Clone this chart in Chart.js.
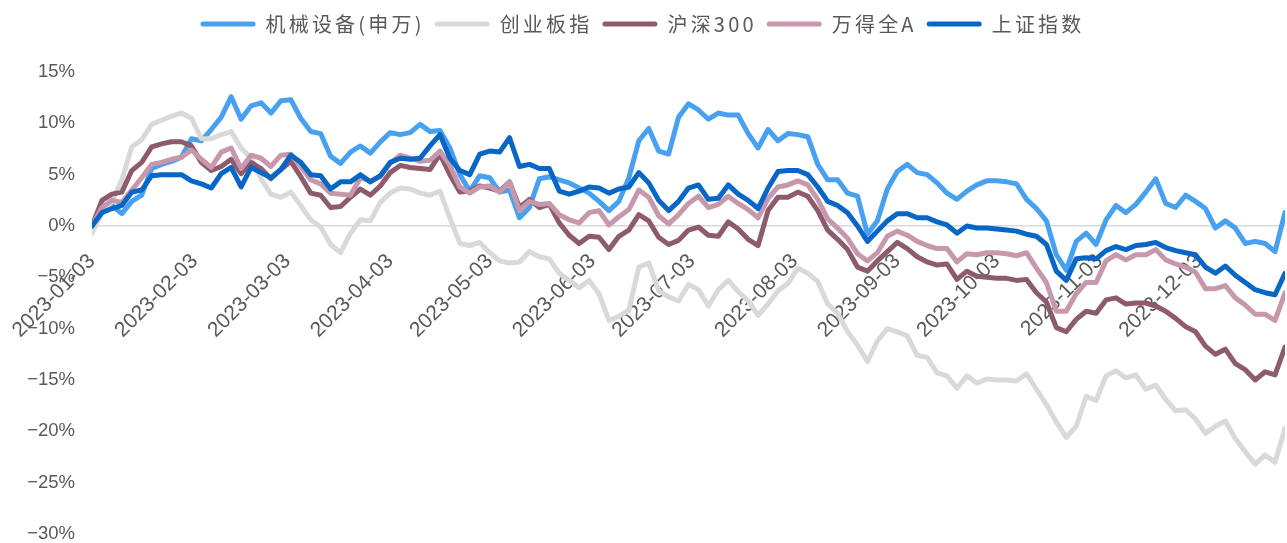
<!DOCTYPE html>
<html>
<head>
<meta charset="utf-8">
<script src="https://cdn.jsdelivr.net/npm/chart.js@4.4.1/dist/chart.umd.min.js"></script>
<style>
html,body{margin:0;padding:0;background:#ffffff;overflow:hidden;}
canvas{display:block;}
</style>
</head>
<body>
<canvas id="c" width="1287" height="543" style="width:1287px;height:543px;"></canvas>
<script>
// ---- data ----
const dates = [
"2023-01-03","2023-01-06","2023-01-09","2023-01-12","2023-01-15","2023-01-18","2023-01-21","2023-01-24","2023-01-27","2023-01-30",
"2023-02-02","2023-02-05","2023-02-08","2023-02-11","2023-02-14","2023-02-17","2023-02-20","2023-02-23","2023-02-26","2023-03-01",
"2023-03-04","2023-03-07","2023-03-10","2023-03-13","2023-03-16","2023-03-19","2023-03-22","2023-03-25","2023-03-28","2023-03-31",
"2023-04-03","2023-04-06","2023-04-09","2023-04-12","2023-04-15","2023-04-18","2023-04-21","2023-04-24","2023-04-27","2023-04-30",
"2023-05-03","2023-05-06","2023-05-09","2023-05-12","2023-05-15","2023-05-18","2023-05-21","2023-05-24","2023-05-27","2023-05-30",
"2023-06-02","2023-06-05","2023-06-08","2023-06-11","2023-06-14","2023-06-17","2023-06-20","2023-06-23","2023-06-26","2023-06-29",
"2023-07-02","2023-07-05","2023-07-08","2023-07-11","2023-07-14","2023-07-17","2023-07-20","2023-07-23","2023-07-26","2023-07-29",
"2023-08-01","2023-08-04","2023-08-07","2023-08-10","2023-08-13","2023-08-16","2023-08-19","2023-08-22","2023-08-25","2023-08-28",
"2023-08-31","2023-09-03","2023-09-06","2023-09-09","2023-09-12","2023-09-15","2023-09-18","2023-09-21","2023-09-24","2023-09-27",
"2023-09-30","2023-10-03","2023-10-06","2023-10-09","2023-10-12","2023-10-15","2023-10-18","2023-10-21","2023-10-24","2023-10-27",
"2023-10-30","2023-11-02","2023-11-05","2023-11-08","2023-11-11","2023-11-14","2023-11-17","2023-11-20","2023-11-23","2023-11-26",
"2023-11-29","2023-12-02","2023-12-05","2023-12-08","2023-12-11","2023-12-14","2023-12-17","2023-12-20","2023-12-23","2023-12-26",
"2023-12-29"
];

const seriesNames = ["机械设备(申万)", "创业板指", "沪深300", "万得全A", "上证指数"];

const jixie = [
0,1.5,2.0,1.2,2.4,3.0,5.6,6.0,6.3,6.7,
8.5,8.3,9.4,10.6,12.6,10.4,11.7,12.0,11.0,12.2,
12.3,10.5,9.2,9.0,6.8,6.1,7.2,7.8,7.1,8.2,
9.1,8.9,9.1,9.9,9.2,9.3,7.6,5.0,3.4,4.9,
4.7,3.3,3.5,0.8,1.8,4.6,4.8,4.5,4.2,3.7,
3.2,2.4,1.5,2.4,4.7,8.3,9.5,7.3,7.0,10.6,
11.9,11.3,10.4,11.0,10.8,10.8,9.0,7.6,9.4,8.3,
9.0,8.9,8.7,6.0,4.5,4.5,3.2,2.9,-0.8,0.5,
3.6,5.3,6.0,5.2,5.0,4.2,3.2,2.6,3.4,4.0,
4.4,4.4,4.3,4.1,2.6,1.7,0.5,-2.8,-4.3,-1.5,
-0.7,-1.8,0.6,2.0,1.3,2.1,3.3,4.6,2.2,1.8,
3.0,2.4,1.7,-0.2,0.5,-0.2,-1.7,-1.5,-1.7,-2.5,
1.3
];

const chuangye = [
-0.7,1.3,2.4,4.5,7.7,8.4,9.9,10.3,10.7,11.0,
10.5,8.5,8.5,8.9,9.2,7.6,6.6,4.6,3.1,2.8,
3.3,2.0,0.6,-0.1,-1.8,-2.6,-0.7,0.6,0.5,2.3,
3.2,3.7,3.6,3.2,3.0,3.4,0.8,-1.7,-1.9,-1.6,
-2.6,-3.4,-3.6,-3.5,-2.5,-3.0,-3.2,-4.6,-5.3,-6.0,
-5.3,-6.6,-9.2,-8.8,-8.2,-4.0,-3.6,-6.3,-6.9,-7.3,
-5.7,-6.2,-7.8,-6.2,-5.3,-6.4,-7.3,-8.7,-7.6,-6.3,
-5.6,-4.1,-4.6,-5.4,-7.6,-8.5,-10.3,-11.6,-13.2,-11.2,
-10.0,-10.3,-10.7,-12.6,-12.8,-14.3,-14.6,-15.8,-14.6,-15.3,
-14.9,-15.0,-15.0,-15.1,-14.4,-15.9,-17.4,-19.1,-20.6,-19.5,
-16.6,-17.0,-14.6,-14.1,-14.8,-14.5,-15.9,-15.5,-16.9,-18.0,
-17.9,-18.8,-20.2,-19.5,-19.0,-20.7,-22.0,-23.2,-22.3,-23.0,
-19.7
];

const hs300 = [
0,2.5,3.1,3.3,5.4,6.2,7.7,8.0,8.2,8.2,
7.8,6.2,5.4,5.8,6.5,5.1,6.2,5.6,4.6,5.5,
6.3,4.8,3.2,3.0,1.8,1.9,2.8,3.6,3.0,3.9,
5.2,5.9,5.7,5.6,5.5,7.0,5.0,3.3,3.4,3.9,
3.7,3.4,4.3,1.8,2.6,1.8,2.1,0.3,-0.9,-1.7,
-1.0,-1.1,-2.3,-1.0,-0.4,1.1,0.5,-1.1,-1.8,-1.4,
-0.4,-0.1,-0.9,-1.0,0.4,-0.3,-1.3,-1.9,1.5,2.8,
2.8,3.3,2.9,1.5,-0.4,-1.3,-2.3,-4.0,-4.4,-3.4,
-2.5,-1.6,-2.2,-3.0,-3.5,-3.8,-3.7,-5.2,-4.4,-4.9,
-5.0,-5.1,-5.1,-5.3,-5.2,-6.5,-7.4,-9.9,-10.3,-9.1,
-8.3,-8.5,-7.2,-7.0,-7.6,-7.5,-7.5,-7.8,-8.3,-9.0,
-9.8,-10.3,-11.7,-12.5,-12.0,-13.4,-14.0,-15.0,-14.2,-14.5,
-11.8
];

const windA = [
0,1.8,2.5,2.3,3.5,4.7,6.0,6.2,6.5,6.7,
7.4,6.5,5.7,7.2,7.6,5.6,6.9,6.6,5.8,6.9,
7.0,5.8,4.5,4.1,3.2,3.1,3.0,4.7,4.4,4.8,
6.1,6.9,6.6,6.3,6.4,7.3,5.9,3.8,3.2,3.8,
3.9,3.3,4.3,1.5,2.4,2.1,2.2,1.1,0.6,0.3,
1.3,1.5,0.1,0.9,1.6,3.5,2.8,1.0,0.2,1.1,
2.2,2.9,1.8,2.1,2.9,2.2,1.6,0.8,2.7,3.8,
4.0,4.4,4.0,2.6,0.7,-0.2,-1.2,-2.7,-3.4,-2.6,
-1.0,-0.5,-0.9,-1.5,-1.9,-2.2,-2.2,-3.5,-2.7,-2.8,
-2.6,-2.6,-2.7,-2.9,-2.6,-4.1,-5.5,-8.3,-8.3,-6.6,
-5.5,-5.5,-3.4,-2.8,-3.3,-2.8,-2.8,-2.3,-3.3,-3.7,
-4.0,-4.5,-6.1,-6.1,-5.8,-7.0,-7.7,-8.6,-8.6,-9.2,
-6.5
];

const shIndex = [
0,1.3,1.7,2.0,3.3,3.5,4.9,5.0,5.0,5.0,
4.4,4.1,3.7,5.1,5.7,3.8,5.7,5.2,4.7,5.5,
6.9,6.2,5.0,4.9,3.6,4.3,4.3,5.0,4.3,4.9,
6.2,6.6,6.5,6.6,7.8,8.9,6.6,5.4,5.0,7.0,
7.3,7.2,8.6,5.8,6.0,5.6,5.6,3.4,3.1,3.4,
3.8,3.7,3.2,3.6,3.8,5.2,4.2,2.5,1.5,2.4,
3.7,4.0,2.6,2.7,4.0,3.1,2.5,1.7,3.7,5.3,
5.4,5.4,5.0,3.8,2.4,2.0,1.3,0.0,-1.5,-0.5,
0.5,1.2,1.2,0.8,0.8,0.4,0.1,-0.7,0.0,-0.2,
-0.2,-0.3,-0.4,-0.5,-0.8,-1.0,-1.8,-4.4,-5.3,-3.2,
-3.1,-3.2,-2.4,-2.0,-2.3,-1.9,-1.8,-1.6,-2.1,-2.4,
-2.6,-2.8,-4.0,-4.6,-3.9,-4.8,-5.5,-6.2,-6.5,-6.7,
-4.6
];

const tickDates = ["2023-01-03","2023-02-03","2023-03-03","2023-04-03","2023-05-03","2023-06-03",
                   "2023-07-03","2023-08-03","2023-09-03","2023-10-03","2023-11-03","2023-12-03"];
const yTicks = [15,10,5,0,-5,-10,-15,-20,-25,-30];

const seriesColors = ["#47a0f0", "#d9d9d9", "#8d5b6c", "#c797ab", "#0766c6"];

// ---- helpers ----
function dayOf(s){
  const p = s.split("-").map(Number);
  return (Date.UTC(p[0], p[1]-1, p[2]) - Date.UTC(2023, 0, 3)) / 86400000;
}
const xDays = dates.map(dayOf);
const tickDays = tickDates.map(dayOf);
const seriesValues = [jixie, chuangye, hs300, windA, shIndex];

const legendTweak = {
  id: "legendTweak",
  beforeLayout(chart){
    const lg = chart.legend;
    if (!lg || lg._tweaked) return;
    lg._tweaked = true;
    const fit0 = lg.fit, draw0 = lg.draw;
    lg.fit = function(){
      const c = this.ctx; c.letterSpacing = "3.2px";
      fit0.call(this);
      c.letterSpacing = "0px";
      this.height += 28;
    };
    lg.draw = function(a){
      const c = this.ctx; c.letterSpacing = "3.2px";
      draw0.call(this, a);
      c.letterSpacing = "0px";
    };
  }
};

const tickFont = "'Liberation Sans', Arial, sans-serif";

new Chart(document.getElementById("c"), {
  type: "line",
  data: {
    labels: xDays,
    datasets: seriesValues.map((vals, i) => ({
      label: seriesNames[i],
      data: vals,
      borderColor: seriesColors[i],
      backgroundColor: seriesColors[i],
      borderWidth: 5,
      pointRadius: 0,
      pointHoverRadius: 0,
      tension: 0,
      fill: false,
      borderJoinStyle: "round",
      borderCapStyle: "round",
      order: 5 - i
    }))
  },
  options: {
    responsive: false,
    maintainAspectRatio: false,
    animation: false,
    events: [],
    layout: { padding: { top: 4, right: 2, bottom: 9, left: 0 } },
    plugins: {
      tooltip: { enabled: false },
      legend: {
        position: "top",
        labels: {
          boxWidth: 55,
          boxHeight: 5,
          padding: 10,
          color: "#595959",
          font: { family: "'Noto Sans CJK SC', sans-serif", size: 20 },
          generateLabels(chart){
            return chart.data.datasets.map((ds, i) => ({
              text: ds.label,
              fillStyle: ds.borderColor,
              strokeStyle: ds.borderColor,
              lineWidth: 0,
              borderRadius: 2.5,
              hidden: false,
              datasetIndex: i,
              fontColor: "#595959"
            }));
          }
        }
      }
    },
    scales: {
      x: {
        type: "linear",
        min: 0,
        max: 360,
        position: { y: 0 },
        grid: { display: false, drawTicks: true, tickLength: 23 },
        border: { display: true, color: "#d9d9d9", width: 1.5 },
        afterBuildTicks(s){ s.ticks = tickDays.map(v => ({ value: v })); },
        afterFit(s){ s.height = 0; s.paddingLeft = 0; s.paddingRight = 0; },
        ticks: {
          autoSkip: false,
          minRotation: 45,
          maxRotation: 45,
          padding: 0,
          labelOffset: 0,
          color: "#595959",
          font: { family: tickFont, size: 21 },
          callback(v){ const k = tickDays.indexOf(v); return k >= 0 ? tickDates[k] : ""; }
        }
      },
      y: {
        min: -30,
        max: 15,
        grid: { display: false, drawTicks: false },
        border: { display: false },
        afterBuildTicks(s){ s.ticks = yTicks.map(v => ({ value: v })); },
        afterFit(s){ s.width = 92; s.paddingTop = 0; s.paddingBottom = 0; },
        ticks: {
          padding: 17,
          color: "#595959",
          font: { family: tickFont, size: 18.5, lineHeight: 1 },
          callback(v){ return (v < 0 ? "\u2212" + Math.abs(v) : String(v)) + "%"; }
        }
      }
    }
  },
  plugins: [legendTweak]
});
</script>
</body>
</html>
